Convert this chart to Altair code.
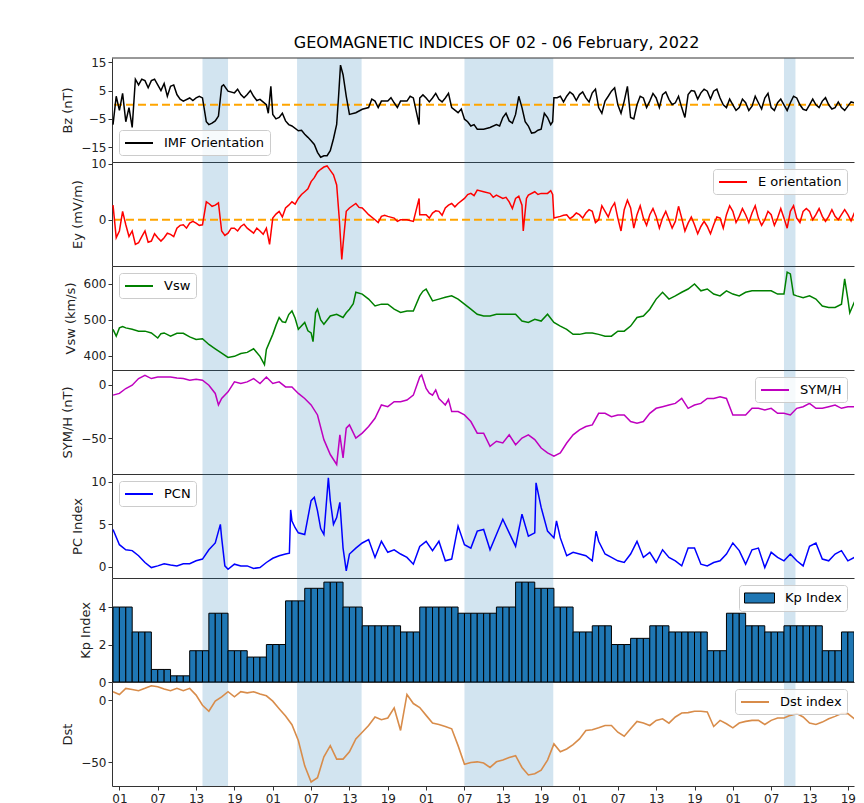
import altair as alt
import pandas as pd

TITLE = "GEOMAGNETIC INDICES OF 02 - 06 February, 2022"
FONT = "DejaVu Sans"

# hours since 2022-02-02 00:00 UT (hourly samples)
HOURS = list(range(118))

BZ = [-7, -2, -6, -8, 7, 8.5, 8.5, 7, 7.5, 6.5,
      3.6, 1.3, 2.4, 2.4, 2.4, -7, -5.7, 6.5, 4.8, 4.2,
      3.6, 3.6, 3, 1.9, 0, -3.4, -4.5, -5.7, -7.5, -9.2,
      -10.4, -12.7, -16.8, -18, -16.2, -6.9, 10.6, -3.4, -2.8, -1.6,
      -1, 1.3, 1.3, 1.3, 0.7, 1.3, 1.3, 2.4, 2.4, 2.4,
      2.4, 1.9, 2.4, -1, -2.8, -5.1, -7.5, -8.6, -8.6, -8,
      -7, -4.5, -5.7, -3.4, -1, -7.5, -9.8, -8.6, -4.5, 2.5,
      3, 3, 3.6, 3.6, 2.4, 4.2, -1, 1.3, 4.8, 0,
      1.3, -4.5, 0, 2.4, 1.3, 2.4, 3.6, 1.9, 0.7, -1,
      3.6, 4.8, 4.2, 4.8, 4.8, 2.4, -1, 0, -1, 0.7,
      -0.5, 0.7, 2.4, -1, 0.7, 0, 0.7, 2.4, -1.6, 0,
      0, 1.3, 0, -1, -1, -0.5, 0.7, 1.9]
BZ_EXTRA_T = [0.5, 1.5, 2.5, 3.5, 4.5, 5.5, 6.5, 7.5, 8.5, 9.5, 10.5, 12.5, 13.5,
              14.6, 15.5, 16.5, 17.3, 19.5, 20.5, 21.5, 22.5, 24.3, 24.7, 25.5,
              26.5, 27.5, 29.5, 30.5, 31.5, 32.5, 33.5, 34.5, 35.3, 35.6, 36.5,
              40.5, 41.5, 43.5, 44.5, 46.5, 47.9, 48.5, 49.5, 50.5, 51.5, 52.5,
              54.5, 55.5, 56.5, 60.5, 61.5, 62.5, 63.5, 64.5, 65.5, 66.5, 67.5,
              68.5, 68.8, 69.5, 70.5, 71.5, 72.5, 73.5, 74.5, 75.5, 76.5, 77.5,
              78.5, 79.5, 80.5, 81.5, 82.5, 83.5, 84.5, 85.5, 86.5, 87.5, 88.5,
              89.5, 90.5, 91.5, 92.5, 93.5, 94.5, 95.5, 96.5, 97.5, 98.5, 99.5,
              100.5, 101.5, 102.5, 103.5, 104.5, 105.5, 106.5, 107.5, 108.5,
              109.5, 110.5, 111.5, 112.5, 113.5, 114.5, 115.5, 116.5]
BZ_EXTRA_V = [3, 4, -1, 9, 9, 6, 9, 5, 3, 7, 2, 1.5, 3,
              -6, -6.5, -4, 7, 5.5, 2.5, 5, 1.5, -3, 6.5, -5,
              -3, -7, -9, -11.5, -14, -18.5, -18, -12, 3, 14, 3,
              2, -1, 2.5, -1, 3, -7, 3.5, 1, 4, 1, 4,
              -1.5, -6, -7, -7.5, -3, -6.5, 3, -6, -10, -9, -3,
              -7, -6, 2.5, 1, 4.5, 1.5, 4.5, 1, 5.5, -3, 3,
              6, -3, 6.5, -5, 3, -1, 4, -1, 4.5, 0, 3,
              -4.5, 5, 2, 5.5, 2, 5.5, 0, 2, -2, 2, -2,
              3, -1.5, 4, -2, 2, -2, 3, 0, -2,
              2, -1, 2.5, -1.5, 1, -2, 1, 2.5]

EY = [2.6, -2, -0.9, -2, -4.1, -2, -3.8, -3.2, -3.2, -2.6,
      -1.5, -0.9, -0.6, -0.6, -0.9, 2.9, 2.6, -2, -2.4, -1.5,
      -1.2, -1.5, -2.4, -2, -1.5, 0.3, 1.5, 2.1, 3.2, 3.8,
      5, 6.8, 8.5, 9.4, 8.8, 6.2, -4.4, 2.1, 2.9, 2.1,
      0.9, 0, 0.6, 0.6, 0.3, 0, 0, -0.3, 0.9, 0.9,
      1.2, 1.5, 2.1, 2.9, 2.9, 3.8, 4.7, 5.3, 5, 4.7,
      4.4, 3.8, 3.2, 3.8, 2.6, 4.4, 5, 4.7, 4.7, 0.3,
      0.6, 0.9, 0.6, 0.9, 1.2, 1.5, 0, 1.5, 2.1, 0.3,
      1.8, 2.1, 0.9, 0.3, 0.9, 0.6, 0.3, 0, -0.3, 0.3,
      -0.6, -0.9, -1.2, -1.2, -0.9, 0.3, 0.9, 1.5, 0.6, 0.9,
      1.2, 0.3, 0, 0.9, 0.3, 0.3, 1.5, 0.3, 1.5, 1.5,
      0.9, 0.6, 0.6, 0.6, 0.9, 0.9, 1.2, 0.9]
EY_EXTRA_T = [0.5, 1.5, 2.5, 3.5, 4.5, 5.5, 6.5, 7.5, 8.5, 9.5, 10.5, 11.5, 12.5,
              13.5, 14.6, 15.5, 16.5, 17.5, 18.5, 19.5, 20.5, 22.5, 23.5, 24.5,
              25.5, 26.5, 27.5, 28.5, 29.5, 30.5, 31.5, 32.5, 33.5, 34.5, 35.4,
              35.8, 36.5, 38.5, 39.5, 41.5, 42.5, 44.5, 47.9, 49.5, 50.5, 51.5,
              52.5, 53.5, 55.5, 56.5, 59.5, 61.5, 62.5, 63.5, 64.2, 64.7, 66.5,
              68.5, 68.8, 70.5, 71.5, 72.5, 73.5, 74.5, 75.5, 76.5, 77.5, 78.5,
              79.5, 80.5, 81.5, 82.5, 83.5, 84.5, 85.5, 86.5, 87.5, 88.5, 89.5,
              90.5, 91.5, 92.5, 93.5, 94.5, 95.5, 96.5, 97.5, 98.5, 99.5, 100.5,
              101.5, 102.5, 103.5, 104.5, 105.5, 106.5, 107.5, 108.5, 109.5,
              110.5, 111.5, 112.5, 113.5, 114.5, 115.5, 116.5]
EY_EXTRA_V = [-3.2, 1.5, -3, -4.4, -3, -4, -2.5, -3.8, -2.4, -3, -1, -1.5, -0.3,
              -1, 3.2, 2.4, 3, -2.8, -1.5, -2, -0.8, -1.5, -2.6, -4.4,
              1, 0.5, 2.6, 2.8, 4.5, 5.5, 7.5, 9, 9.6, 8, 0.3,
              -7.1, 1.5, 2.2, 1.5, -0.5, 0.8, -0.3, 3.8, 0.3, 1.6, 0.8,
              2.6, 2.3, 4.5, 4.3, 4, 4, 2, 4.2, -2, 3.8, 4.5,
              5.2, 4.5, 0.8, 0.2, 1.2, 0.3, 1.8, -0.5, 2.5, 0.5, 3,
              -2, 3.5, -1.5, 2.5, -1, 2, -1.5, 1.5, -1.5, 2.4, -2,
              0.5, -2.5, -0.3, -2.5, 0.5, -1.5, 2.5, -0.5, 2, -0.5, 2.5,
              -1, 1.5, -1, 2, -1.5, 2.5, -0.5, 2, 0,
              2, -0.3, 1.8, 0, 1.8, -0.2, 1.5]

VSW = [474, 478, 478, 474, 469, 469, 464, 450, 464, 455,
       463, 463, 453, 446, 448, 432, 420, 408, 396, 399,
       407, 410, 420, 399, 418, 460, 507, 493, 525, 474,
       493, 464, 530, 488, 511, 516, 507, 530, 577, 572,
       558, 539, 544, 544, 530, 521, 525, 525, 567, 586,
       553, 558, 563, 567, 558, 544, 530, 516, 511, 511,
       516, 516, 516, 516, 497, 493, 502, 497, 516, 493,
       483, 474, 460, 460, 464, 464, 460, 455, 455, 469,
       469, 483, 507, 511, 530, 558, 577, 558, 567, 577,
       586, 600, 581, 586, 572, 567, 581, 572, 567, 577,
       581, 581, 581, 581, 572, 572, 628, 567, 562, 567,
       558, 539, 535, 535, 544, 558, 549, 577]
VSW_EXTRA_T = [0.5, 1.5, 7.5, 23.7, 25.5, 26.5, 27.5, 28.5, 30.5, 31.3, 31.7,
               32.5, 36.5, 37.6, 48.5, 105.5, 106.5, 114.5, 115.3]
VSW_EXTRA_V = [455, 482, 462, 376, 485, 495, 515, 505, 470, 440, 520,
               500, 520, 545, 580, 633, 570, 614, 520]

SYMH = [-9.9, -8.3, -3.7, -0.6, 5.6, 8.6, 5.6, 7.1, 7.1, 7.1,
        6.2, 5.6, 4, 4.9, 4, -0.6, -8.3, -13, -6.8, 2.5,
        1, 2.5, 5.6, 1, 7.1, 1, 2.5, -2.2, -2.2, -8.3,
        -13, -19, -28.4, -51.5, -65.4, -74.7, -68.5, -37.7, -50, -45.4,
        -39.2, -31.5, -19.1, -20.7, -16, -16, -14.5, -9.9, 7.1, -3.7,
        -9.9, -13, -19.1, -25.3, -25.3, -28.4, -34.6, -45.4, -45.4, -57.7,
        -53, -54.6, -47, -56.2, -50, -47, -51.5, -59.3, -63.9, -67,
        -63.9, -54.6, -47, -42.3, -39.2, -37.7, -26.9, -26.9, -30, -28.4,
        -28.4, -34.6, -36.1, -34.6, -26.9, -22.2, -20.7, -19.1, -17.6, -13,
        -22.2, -19.1, -17.6, -13, -13, -11.4, -13, -28.4, -28.4, -28.4,
        -22.2, -22.2, -23.8, -22.2, -26.9, -26.9, -28.4, -22.2, -20.7, -17.6,
        -22.2, -22.2, -20.7, -19.1, -22.2, -20.7, -20.7, -25.3]
SYMH_EXTRA_T = [16.5, 35.5, 36.5, 48.3, 49.5, 50.5, 51.5, 52.5]
SYMH_EXTRA_V = [-19, -47, -40.7, 9, -8, -5, -16, -14]

PCN = [4.4, 2.6, 2.0, 1.9, 1.3, 0.5, -0.1, 0.1, 0.35, 0.2,
       0.1, 0.35, 0.35, 0.7, 0.9, 2.0, 2.8, 3.4, -0.3, 0.3,
       0.1, 0.1, -0.2, -0.1, 0.5, 1.0, 1.3, 1.5, 5.4, 4.0,
       3.8, 7.8, 6.6, 3.8, 7.8, 5.8, 2.2, 1.5, 2.2, 2.8,
       3.2, 1.1, 3.0, 1.7, 2.0, 1.5, 1.1, 0.3, 2.4, 3.0,
       1.9, 3.0, 0.7, 0.9, 4.8, 2.6, 2.2, 4.2, 4.4, 2.0,
       3.8, 5.6, 4.0, 2.4, 6.2, 3.6, 4.0, 7.0, 4.2, 3.4,
       3.4, 1.3, 1.7, 1.5, 1.3, 0.7, 3.0, 1.5, 1.1, 0.7,
       0.5, 1.5, 3.0, 1.1, 1.7, 0.5, 2.0, 1.1, 0.7, 0.1,
       2.2, 2.2, 0.3, 0.1, 0.5, 0.7, 1.5, 2.8, 1.9, 0.3,
       2.0, 2.2, -0.1, 1.7, 1.1, 0.7, 1.5, 0.7, 0.1, 2.4,
       2.8, 0.9, 0.7, 1.5, 1.9, 0.7, 1.1, 2.2]
PCN_EXTRA_T = [16.8, 17.5, 27.6, 27.8, 28.5, 31.5, 32.5, 33.7, 34.5, 35.5, 36.5,
               66.2, 69.4, 75.6]
PCN_EXTRA_V = [5.0, 0.1, 1.6, 6.7, 4.6, 8.2, 4.5, 10.5, 5.0, 7.6, -0.5,
               9.9, 5.4, 4.2]

# Kp: one value per 3-hour interval, starting 2022-02-02 00 UT
KP = [4.0, 2.67, 0.67, 0.33, 1.67, 3.67, 1.67, 1.33, 2.0, 4.33,
      5.0, 5.33, 4.0, 3.0, 3.0, 2.67, 4.0, 4.0, 3.67, 3.67,
      4.0, 5.33, 5.0, 4.0, 2.67, 3.0, 2.0, 2.33, 3.0, 2.67,
      2.67, 1.67, 3.67, 3.0, 2.67, 3.0, 3.0, 1.67, 2.67]

DST = [6.8, 4.6, 9.5, 8.6, 7.6, 9.5, 11.6, 10.8, 8.9, 7.6,
       9.5, 7.6, 9.5, 4.1, -4.1, -8.9, -0.8, 2.7, 6.8, 2.7,
       6.8, 5.9, 6.8, 4.9, 3.5, -0.8, -6.8, -12.7, -19.7, -32.4,
       -52.7, -65.7, -62.2, -45.4, -36.5, -47.3, -47.3, -41.4, -31.1, -25.7,
       -20.3, -13.5, -15.7, -14.3, -6.2, -24.3, 4.6, -2.7, -5.9, -12.2,
       -18.4, -19.5, -21.1, -23, -36.5, -51.4, -50, -49.5, -50.5, -54,
       -49.5, -48, -46, -44.6, -54, -60, -59, -56.2, -48.1, -35.1,
       -41.4, -39.2, -35.7, -31.1, -24.3, -23.8, -22.2, -20.3, -20.3, -25.7,
       -28.9, -23, -17, -18.4, -20.3, -16.2, -14.9, -18.4, -13.5, -10.3,
       -10, -8.9, -8.9, -9.5, -21.1, -16.2, -18.9, -22.2, -18.4, -17,
       -16.2, -16.2, -19.5, -16.2, -14.3, -14.3, -12.2, -10.8, -13.5, -18.4,
       -19.5, -17.6, -14.9, -13, -10.8, -10.8, -14.9, -13]

# shaded intervals (hours since 2022-02-02 00 UT)
SPAN_START = [14.0, 28.8, 55.0, 105.0]
SPAN_END = [18.0, 38.9, 68.9, 106.8]

X_DOMAIN = [-0.16, 115.96]
XTICKS = list(range(1, 116, 6))

W = 742
H = 104

AX_COLOR = "#333333"
TXT = "#222222"

LINE_SYMBOL = "M-1,0L3,0"
PATCH_SYMBOL = "M-1,-0.67L3,-0.67L3,0.67L-1,0.67Z"


def series_df(vals, ex_t, ex_v, name):
    df = pd.DataFrame({"t": HOURS + ex_t, "v": vals + ex_v})
    df["series"] = name
    return df.sort_values("t").reset_index(drop=True)


def x_axis(bottom):
    if bottom:
        return alt.Axis(values=XTICKS, title=None, grid=False, tickSize=4,
                        labelFontSize=12, labelPadding=3, labelColor=TXT,
                        domainColor=AX_COLOR, tickColor=AX_COLOR, labelFlush=False,
                        labelExpr="((datum.value % 24) < 10 ? '0' : '') + (datum.value % 24)")
    return alt.Axis(labels=False, ticks=False, title=None, grid=False,
                    domainColor=AX_COLOR)


def y_axis(title, ticks):
    return alt.Axis(values=ticks, title=title, grid=False, tickSize=4,
                    labelFontSize=12, titleFontSize=13, titleFontWeight="normal",
                    titleColor=TXT, labelColor=TXT, domainColor=AX_COLOR,
                    tickColor=AX_COLOR, titlePadding=6, labelPadding=2, format="d")


def legend(orient, patch=False):
    kw = dict(orient=orient, title=None, offset=7, padding=5,
              fillColor="rgba(255,255,255,0.8)", strokeColor="#cccccc",
              cornerRadius=3, labelFontSize=13, labelColor="black")
    if patch:
        kw.update(symbolType=PATCH_SYMBOL, symbolSize=225,
                  symbolStrokeColor="black", symbolStrokeWidth=1, labelOffset=25)
    else:
        kw.update(symbolType=LINE_SYMBOL, symbolSize=196, symbolStrokeWidth=2,
                  labelOffset=24)
    return alt.Legend(**kw)


spans_df = pd.DataFrame({"s": SPAN_START, "e": SPAN_END})


def base_layers(bottom):
    xs = alt.Scale(domain=X_DOMAIN, nice=False, zero=False)
    spans = alt.Chart(spans_df).mark_rect(color="#1f77b4", opacity=0.2).encode(
        x=alt.X("s:Q", scale=xs, axis=x_axis(bottom)),
        x2="e:Q",
    )
    return spans, xs


def line_panel(df, color, ytitle, ydom, yticks, orient, zero=False, top=False,
               bottom=False, width=1.5):
    spans, xs = base_layers(bottom)
    ys = alt.Scale(domain=ydom, nice=False, zero=False)
    name = df["series"].iloc[0]
    layers = [spans]
    if zero:
        zdf = pd.DataFrame({"v": [0]})
        layers.append(alt.Chart(zdf).mark_rule(color="orange", strokeDash=[8, 4],
                                               strokeWidth=2).encode(
            y=alt.Y("v:Q", scale=ys, axis=y_axis(ytitle, yticks))))
    line = alt.Chart(df).mark_line(strokeWidth=width, clip=True).encode(
        x=alt.X("t:Q", scale=xs, axis=x_axis(bottom)),
        y=alt.Y("v:Q", scale=ys, axis=y_axis(ytitle, yticks)),
        color=alt.Color("series:N", scale=alt.Scale(domain=[name], range=[color]),
                        legend=legend(orient)),
    )
    layers.append(line)
    if top:
        layers.append(alt.Chart(pd.DataFrame({"k": [0]})).mark_rule(
            color=AX_COLOR, strokeWidth=1).encode(y=alt.value(0)))
    return alt.layer(*layers).properties(width=W, height=H)


bz_df = series_df(BZ, BZ_EXTRA_T, BZ_EXTRA_V, "IMF Orientation")
ey_df = series_df(EY, EY_EXTRA_T, EY_EXTRA_V, "E orientation")
vsw_df = series_df(VSW, VSW_EXTRA_T, VSW_EXTRA_V, "Vsw")
sym_df = series_df(SYMH, SYMH_EXTRA_T, SYMH_EXTRA_V, "SYM/H")
pcn_df = series_df(PCN, PCN_EXTRA_T, PCN_EXTRA_V, "PCN")
dst_df = pd.DataFrame({"t": HOURS, "v": DST, "series": "Dst index"})

p_bz = line_panel(bz_df, "black", "Bz (nT)", [-20.2, 16.5], [-15, -5, 5, 15],
                  "bottom-left", zero=True, top=True)
p_ey = line_panel(ey_df, "red", "Ey (mV/m)", [-8.25, 10.3], [0, 10], "top-right",
                  zero=True)
p_vsw = line_panel(vsw_df, "green", "Vsw (km/s)", [361, 650], [400, 500, 600],
                   "top-left")
p_sym = line_panel(sym_df, "#bf00bf", "SYM/H (nT)", [-83.6, 13.6], [-50, 0],
                   "top-right")
p_pcn = line_panel(pcn_df, "blue", "PC Index", [-1.33, 10.94], [0, 5, 10],
                   "top-left")

# Kp: hourly bars, each 3-hour value spans three one-hour bars
kp_rows = []
for j, k in enumerate(KP):
    for h in range(3):
        s = 3 * j + h
        kp_rows.append({"t0": s, "t1": s + 1, "kp": k, "base": 0.0,
                        "series": "Kp Index"})
kp_df = pd.DataFrame(kp_rows)

spans_k, xs_k = base_layers(False)
kp_bars = alt.Chart(kp_df).mark_rect(stroke="black", strokeWidth=1, clip=True).encode(
    x=alt.X("t0:Q", scale=xs_k, axis=x_axis(False)),
    x2="t1:Q",
    y=alt.Y("kp:Q", scale=alt.Scale(domain=[0, 5.55], nice=False),
            axis=y_axis("Kp Index", [0, 2, 4])),
    y2="base:Q",
    color=alt.Color("series:N", scale=alt.Scale(domain=["Kp Index"], range=["#1f77b4"]),
                    legend=legend("top-right", patch=True)),
)
p_kp = alt.layer(spans_k, kp_bars).properties(width=W, height=H)

p_dst = line_panel(dst_df, "#d88c4a", "Dst", [-68.9, 14.6], [-50, 0], "top-right",
                   bottom=True, width=1.6)

chart = alt.vconcat(p_bz, p_ey, p_vsw, p_sym, p_pcn, p_kp, p_dst,
                    spacing=0, bounds="flush").resolve_scale(
    color="independent", y="independent", x="independent"
).resolve_legend(color="independent").properties(
    title=alt.TitleParams(TITLE, fontSize=16, font=FONT, fontWeight="normal",
                          color="black", anchor="middle", offset=5, dx=38),
    padding={"left": 53, "top": 27, "right": 0, "bottom": 0},
).configure_view(stroke=None).configure_axis(
    labelFont=FONT, titleFont=FONT
).configure_legend(labelFont=FONT).configure_title(font=FONT)

chart.save("out.html", embed_options={"renderer": "svg", "actions": False})
